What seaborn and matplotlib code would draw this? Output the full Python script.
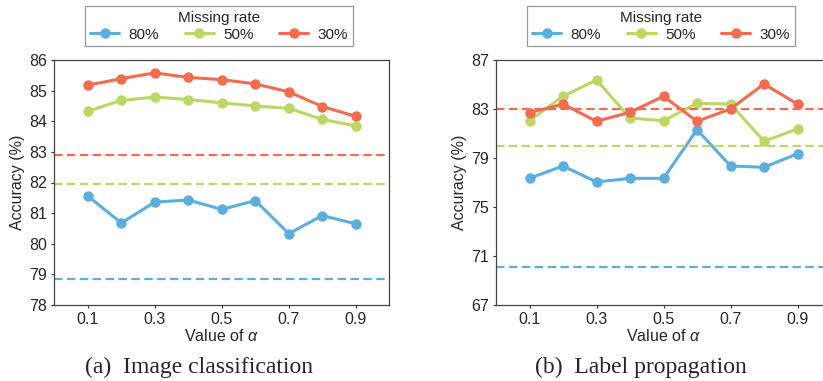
import matplotlib
matplotlib.use("Agg")
import matplotlib.pyplot as plt
import seaborn as sns
import pandas as pd

alphas = [0.1, 0.2, 0.3, 0.4, 0.5, 0.6, 0.7, 0.8, 0.9]
rates = ["80%", "50%", "30%"]

# (a) Image classification
img_80 = [81.56, 80.68, 81.36, 81.43, 81.12, 81.41, 80.33, 80.92, 80.65]
img_50 = [84.33, 84.68, 84.79, 84.71, 84.60, 84.50, 84.42, 84.06, 83.85]
img_30 = [85.18, 85.39, 85.58, 85.43, 85.36, 85.22, 84.96, 84.48, 84.16]
img_base = [78.84, 81.95, 82.89]

# (b) Label propagation
lp_80 = [77.34, 78.35, 77.04, 77.34, 77.34, 81.31, 78.35, 78.24, 79.35]
lp_50 = [82.04, 84.04, 85.37, 82.27, 82.04, 83.47, 83.40, 80.37, 81.37]
lp_30 = [82.70, 83.40, 82.00, 82.73, 84.04, 82.00, 83.00, 85.04, 83.40]
lp_base = [70.10, 80.00, 83.02]

img_ticks = [78, 79, 80, 81, 82, 83, 84, 85, 86]
lp_ticks = [67, 71, 75, 79, 83, 87]
x_ticks = [0.1, 0.3, 0.5, 0.7, 0.9]

colors = ["#5aafdf", "#bcd763", "#f26c50"]

sns.set_style("ticks")
plt.rcParams["font.family"] = ["Liberation Sans", "DejaVu Sans"]
plt.rcParams["mathtext.fontset"] = "custom"
plt.rcParams["mathtext.it"] = "Liberation Sans:italic"
plt.rcParams["mathtext.rm"] = "Liberation Sans"

fig = plt.figure(figsize=(8.23, 3.81), dpi=100)
W, H = 823, 381

def make_df(series):
    rows = []
    for r, vals in zip(rates, series):
        for a, v in zip(alphas, vals):
            rows.append({"alpha": a, "acc": v, "rate": r})
    return pd.DataFrame(rows)

panels = [
    dict(left=54.3, series=[img_80, img_50, img_30], base=img_base,
         ylim=(78, 86), yticks=img_ticks, leg_x=219, cap_x=199,
         cap="(a)  Image classification"),
    dict(left=496, series=[lp_80, lp_50, lp_30], base=lp_base,
         ylim=(67, 87), yticks=lp_ticks, leg_x=661, cap_x=641,
         cap="(b)  Label propagation"),
]

for p in panels:
    ax = fig.add_axes([p["left"] / W, 1 - 305 / H, 335 / W, 245 / H])
    df = make_df(p["series"])
    sns.lineplot(data=df, x="alpha", y="acc", hue="rate", hue_order=rates,
                 palette=colors, marker="o", markersize=7.5, markeredgewidth=0,
                 linewidth=2.2, ax=ax, legend=True)
    for b, c in zip(p["base"], colors):
        ax.axhline(b, color=c, linewidth=1.6, dashes=(3.8, 2.0))
    ax.set_xlim(0, 1.0)
    ax.set_ylim(*p["ylim"])
    ax.set_yticks(p["yticks"])
    ax.set_xticks(x_ticks)
    ax.set_xticklabels([str(t) for t in x_ticks])
    ax.tick_params(axis="both", labelsize=11.5, length=2.5, width=0.8,
                   color="#333333", pad=2.5)
    ax.tick_params(axis="x", pad=2.5)
    for s in ax.spines.values():
        s.set_color("#444444")
        s.set_linewidth(0.9)
    ax.set_xlabel(r"Value of $\alpha$", fontsize=11.5, labelpad=1)
    ax.set_ylabel("Accuracy (%)", fontsize=11.5, labelpad=3)
    handles, labels = ax.get_legend_handles_labels()
    ax.get_legend().remove()
    leg = fig.legend(handles, labels, title="Missing rate", ncol=3,
                     loc="upper center",
                     bbox_to_anchor=(p["leg_x"] / W, 1 - 6 / H),
                     bbox_transform=fig.transFigure, borderaxespad=0,
                     fontsize=11, title_fontsize=11, frameon=True,
                     fancybox=False, framealpha=1, edgecolor="#999999",
                     handlelength=1.9, columnspacing=1.7, borderpad=0.3,
                     labelspacing=0.2, handletextpad=0.6)
    leg.get_frame().set_linewidth(0.9)
    fig.text(p["cap_x"] / W, 1 - 367 / H, p["cap"], ha="center", va="center",
             fontsize=17, family=["Liberation Serif", "DejaVu Serif"])

fig.savefig("out.png", dpi=100)
